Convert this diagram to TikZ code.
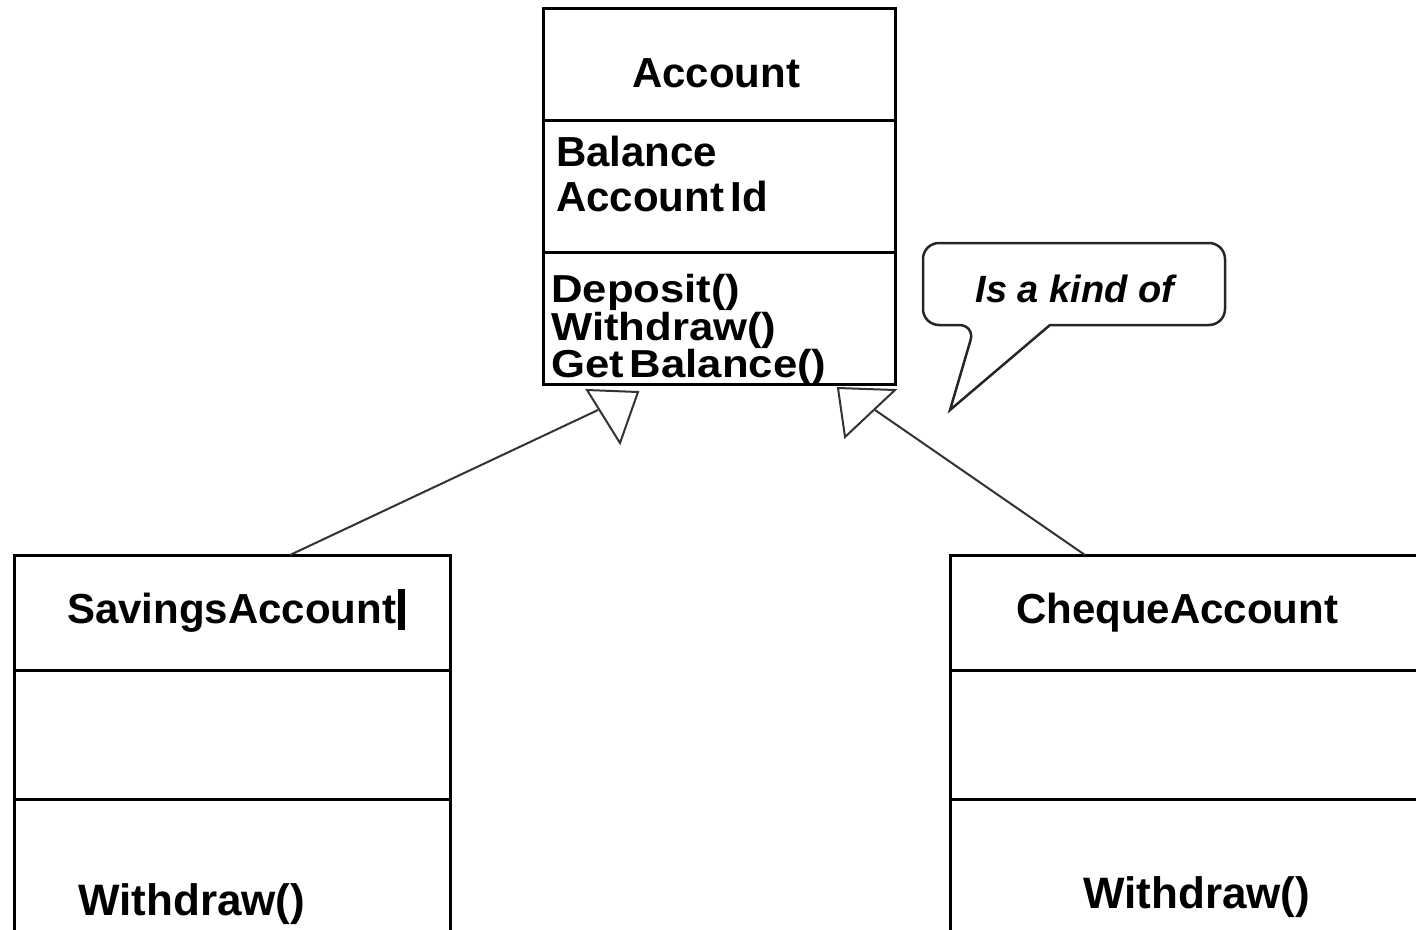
\documentclass[tikz,border=0pt]{standalone}
\usepackage{fontspec}
\setmainfont{Liberation Sans}
\newfontfamily\opfont[FakeStretch=1.12]{Liberation Sans}
\usetikzlibrary{calc}
\begin{document}
\begin{tikzpicture}[x=1pt,y=-1pt,
  classbox/.style={draw=black,line width=3pt,inner sep=0pt,outer sep=0pt,anchor=north west},
  divider/.style={draw=black,line width=3pt},
  link/.style={draw=black!80,line width=2pt},
  hollowtip/.style={draw=black!80,line width=2pt,line join=miter},
  label/.style={inner sep=0pt,font=\bfseries\fontsize{42}{42}\selectfont},
  method/.style={inner sep=0pt,anchor=base west,font=\opfont\bfseries\fontsize{39}{39}\selectfont},
  bubble/.style={draw=black!85,line width=2.5pt,fill=white}
]
\clip (0,0) rectangle (1416,929);
\fill[white] (0,0) rectangle (1416,929);

% class Account
\node[classbox,minimum width=352pt,minimum height=376pt] (acc) at (543,8) {};
\draw[divider] (543,120) -- (895,120);
\draw[divider] (543,252) -- (895,252);
\node[label,anchor=base] (accname) at (716,87) {Account};
\node[label,anchor=base west] (accbal) at (556,166) {Balance};
\node[label,anchor=base west] (accid) at (556,211) {Account\hspace{0.15em}Id};
\node[method] (opdep) at (551,302) {Deposit()};
\node[method] (opwd) at (551,340) {Withdraw()};
\node[method] (opbal) at (551,377) {Get\hspace{0.15em}Balance()};

% class SavingsAccount
\node[classbox,minimum width=436pt,minimum height=420pt] (sav) at (14,555) {};
\draw[divider] (14,670) -- (450,670);
\draw[divider] (14,799) -- (450,799);
\node[label,anchor=base west] (savname) at (67,623) {SavingsAccount};
\fill[black] (398,589) rectangle (405,630);
\node[label,anchor=base west,font=\bfseries\fontsize{44}{44}\selectfont] (savop) at (78,915) {Withdraw()};

% class ChequeAccount
\node[classbox,minimum width=520pt,minimum height=420pt] (che) at (950,555) {};
\draw[divider] (950,670) -- (1470,670);
\draw[divider] (950,799) -- (1470,799);
\node[label,anchor=base west] (chename) at (1016,623) {ChequeAccount};
\node[label,anchor=base west,font=\bfseries\fontsize{44}{44}\selectfont] (cheop) at (1083,908) {Withdraw()};

% generalisation heads
\coordinate (la) at (587,390);
\coordinate (lb) at (638,392);
\coordinate (lc) at (620,443);
\coordinate (lhit) at (598,410);
\coordinate (ra) at (838,388);
\coordinate (rb) at (895,390);
\coordinate (rc) at (845,437);
\coordinate (rhit) at (875,410);

\draw[link] ([xshift=276pt]sav.north west) -- (lhit);
\draw[link] ([xshift=135pt]che.north west) -- (rhit);
\draw[hollowtip] (la) -- (lb) -- (lc) -- cycle;
\draw[hollowtip] (ra) -- (rb) -- (rc) -- cycle;

% speech bubble
\draw[bubble] (975,325) -- (950,410) -- (1050,325)
  [rounded corners=16pt] -- (1225,325) -- (1225,243) -- (923,243) -- (923,325) -- cycle;
\node[inner sep=0pt,anchor=base,font=\bfseries\itshape\fontsize{38}{38}\selectfont] (kind) at (1075,302) {Is a kind of};
\end{tikzpicture}
\end{document}
